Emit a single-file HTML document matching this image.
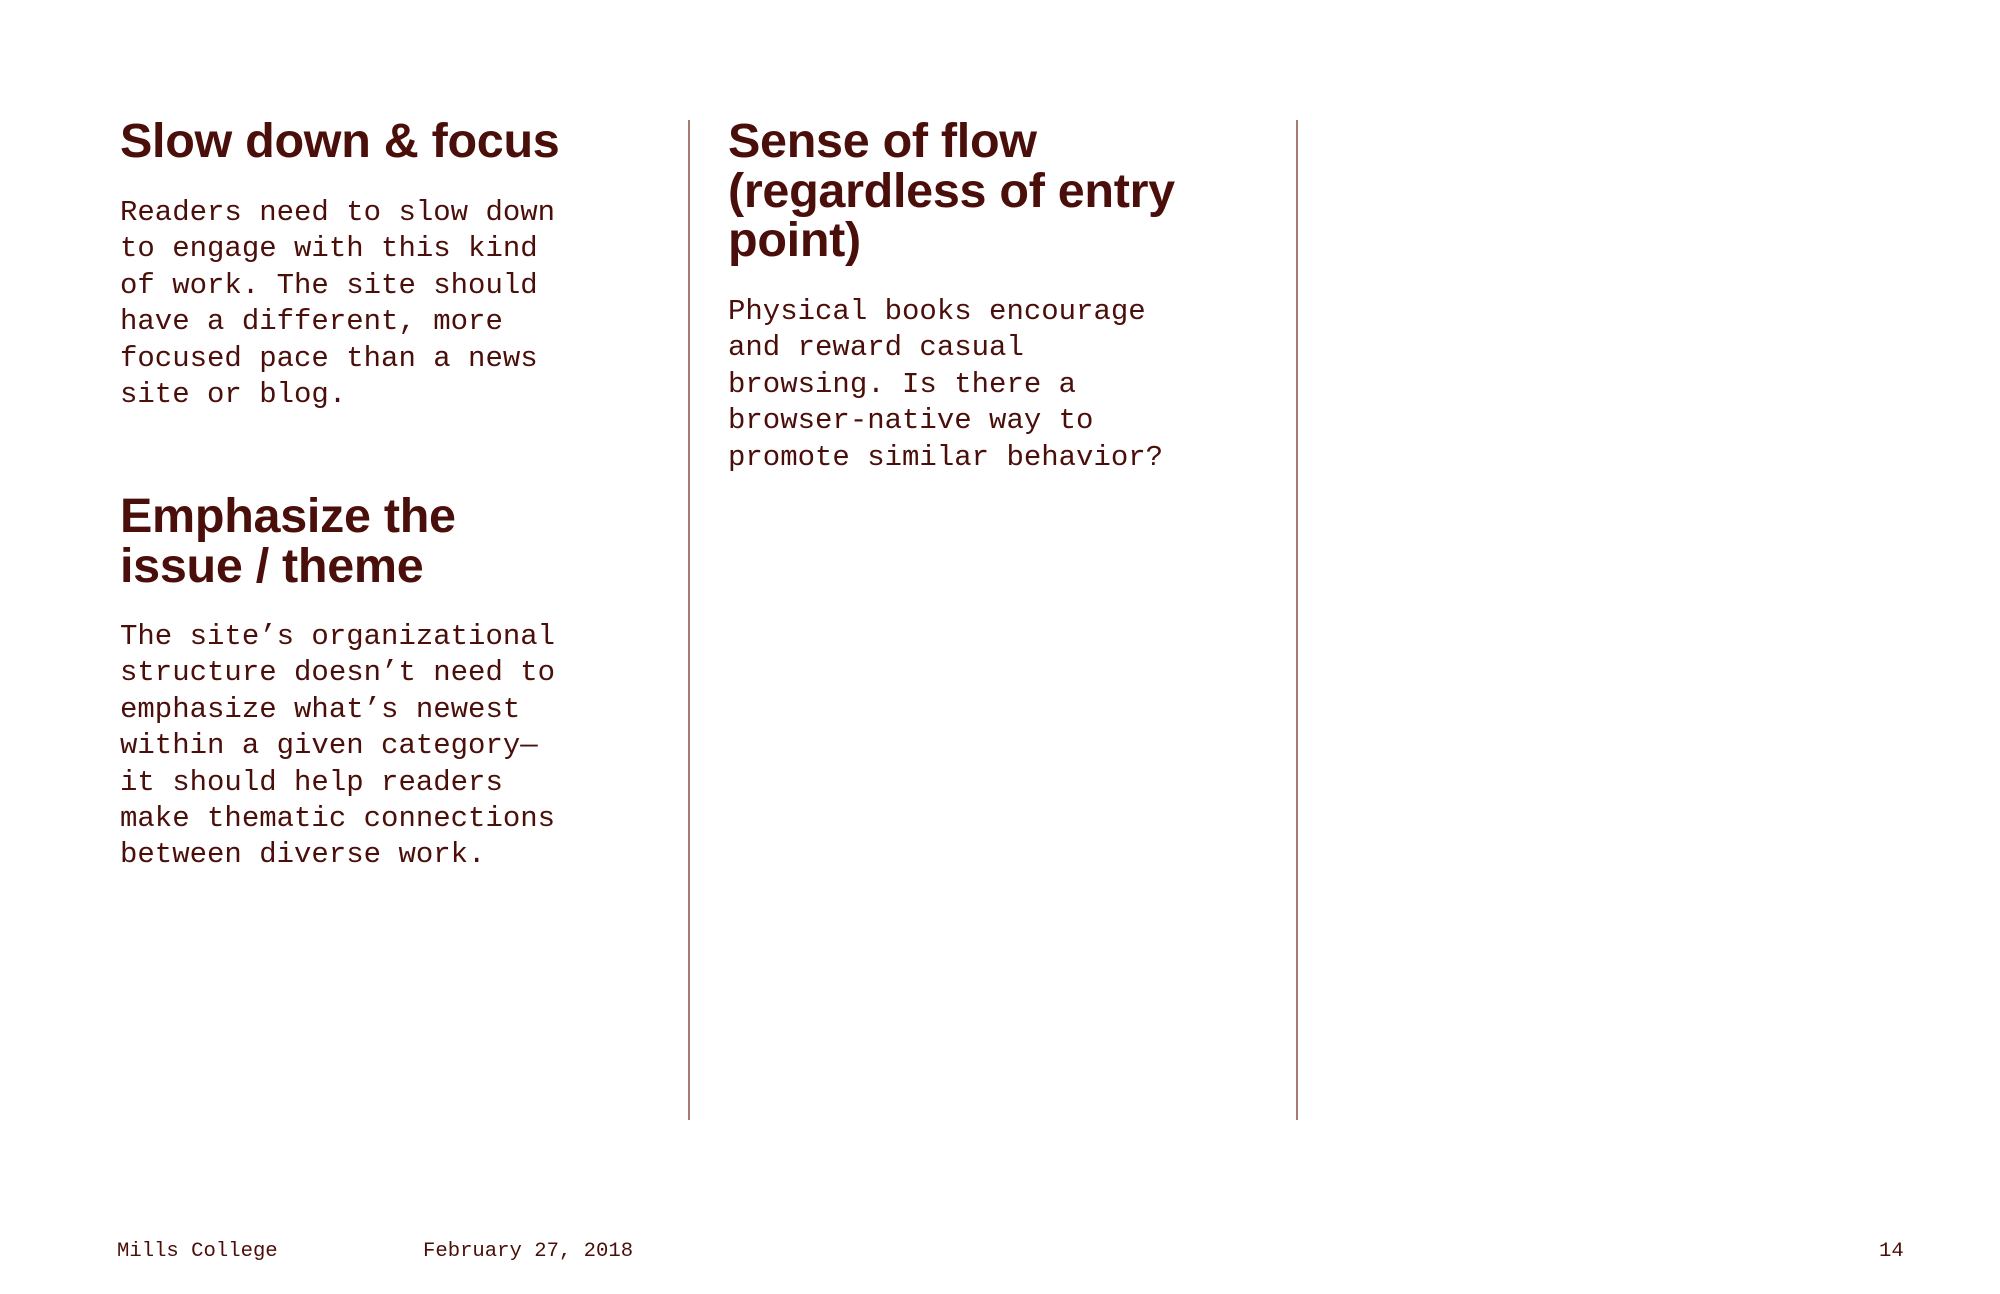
<!DOCTYPE html>
<html><head><meta charset="utf-8"><style>
html,body{margin:0;padding:0;background:#fff;}
body{width:2000px;height:1294px;position:relative;overflow:hidden;color:#4a0f0a;}
.h{position:absolute;font-family:"Liberation Sans",sans-serif;font-weight:bold;font-size:48.5px;line-height:49.7px;margin:0;letter-spacing:-0.3px;}
.p{position:absolute;font-family:"Liberation Mono",monospace;font-size:29px;line-height:36.4px;margin:0;white-space:pre;}
.f{position:absolute;font-family:"Liberation Mono",monospace;font-size:20.6px;line-height:26px;top:1239px;white-space:pre;}
.v{position:absolute;top:120px;height:1000px;width:1.5px;background:#a87a76;}
</style></head><body>
<div class="h" style="left:120px;top:117px;">Slow down &amp; focus</div>
<div class="p" style="left:120px;top:195px;">Readers need to slow down
to engage with this kind
of work. The site should
have a different, more
focused pace than a news
site or blog.</div>
<div class="h" style="left:120px;top:492px;">Emphasize the<br>issue / theme</div>
<div class="p" style="left:120px;top:619px;">The site’s organizational
structure doesn’t need to
emphasize what’s newest
within a given category—
it should help readers
make thematic connections
between diverse work.</div>
<div class="v" style="left:688px;"></div>
<div class="h" style="left:728px;top:117px;">Sense of flow<br>(regardless of entry<br>point)</div>
<div class="p" style="left:728px;top:294px;">Physical books encourage
and reward casual
browsing. Is there a
browser-native way to
promote similar behavior?</div>
<div class="v" style="left:1296px;"></div>
<div class="f" style="left:117px;">Mills College</div>
<div class="f" style="left:423px;">February 27, 2018</div>
<div class="f" style="left:1879px;">14</div>
</body></html>
